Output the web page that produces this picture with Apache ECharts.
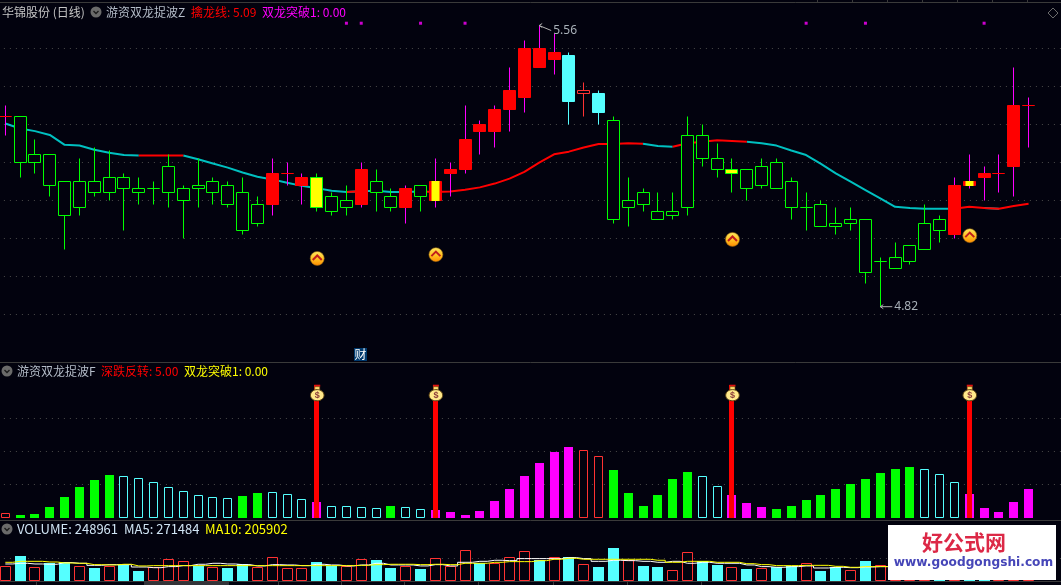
<!DOCTYPE html>
<html>
<head>
<meta charset="utf-8">
<title>华锦股份 日线</title>
<style>
  html, body { margin: 0; padding: 0; background: #02020e; }
  #chart { width: 1061px; height: 585px; }
</style>
<script src="https://cdn.jsdelivr.net/npm/echarts@6/dist/echarts.min.js"></script>
</head>
<body>
<div id="chart"></div>
<script>
// K线：实体上沿、实体下沿、最高、最低
var bodyHigh = [
  5.32,5.32,5.22,5.22,5.15,5.15,5.15,5.16,5.16,5.13,
  5.13,5.19,5.13,5.14,5.15,5.14,5.12,5.09,5.17,5.17,
  5.16,5.16,5.11,5.10,5.18,5.15,5.11,5.13,5.14,5.15,
  5.18,5.26,5.30,5.34,5.39,5.50,5.50,5.49,5.48,5.39,
  5.38,5.31,5.10,5.12,5.07,5.07,5.27,5.27,5.21,5.18,
  5.18,5.19,5.20,5.15,5.08,5.09,5.04,5.05,5.05,4.94,
  4.95,4.98,5.04,5.05,5.14,5.15,5.17,5.17,5.35,5.35
];
var bodyLow = [
  5.32,5.20,5.20,5.14,5.06,5.08,5.12,5.12,5.13,5.12,
  5.13,5.12,5.10,5.13,5.12,5.09,5.02,5.04,5.09,5.17,
  5.14,5.08,5.07,5.08,5.09,5.12,5.08,5.08,5.11,5.10,
  5.17,5.18,5.28,5.28,5.34,5.37,5.45,5.47,5.36,5.38,
  5.33,5.05,5.08,5.09,5.05,5.06,5.08,5.21,5.18,5.17,
  5.13,5.14,5.13,5.08,5.08,5.03,5.03,5.04,4.91,4.94,
  4.92,4.94,4.97,5.02,5.01,5.14,5.16,5.17,5.19,5.35
];
var highs = [
  5.35,5.32,5.26,5.22,5.15,5.21,5.24,5.23,5.17,5.16,
  5.15,5.22,5.14,5.21,5.16,5.15,5.16,5.11,5.21,5.20,
  5.17,5.17,5.12,5.14,5.20,5.18,5.13,5.14,5.14,5.21,
  5.20,5.35,5.31,5.35,5.45,5.52,5.56,5.54,5.49,5.41,
  5.39,5.32,5.16,5.13,5.12,5.12,5.32,5.30,5.25,5.21,
  5.18,5.21,5.21,5.16,5.12,5.10,5.08,5.08,5.05,4.95,
  4.99,4.98,5.09,5.06,5.16,5.22,5.19,5.22,5.45,5.37
];
var lows = [
  5.27,5.16,5.17,5.11,4.97,5.06,5.11,5.10,5.02,5.09,
  5.09,5.08,5.00,5.08,5.09,5.08,5.01,5.03,5.06,5.14,
  5.09,5.07,5.06,5.06,5.08,5.07,5.07,5.04,5.07,5.08,
  5.11,5.17,5.22,5.24,5.28,5.33,5.45,5.43,5.30,5.32,
  5.30,5.04,5.03,5.07,5.05,5.05,5.06,5.19,5.16,5.12,
  5.10,5.13,5.13,5.05,5.02,5.03,5.01,5.02,4.88,4.82,
  4.92,4.93,4.97,4.99,5.00,5.13,5.10,5.12,5.11,5.24
];
// g空心绿 r实心红 c实心青 h空心红 y黄芯绿框 z黄芯红边
var candleKinds = 'rggggggggggggggggg' + 'rrrygg' + 'rggrgz' + 'rrrrrrrr' + 'chc' + 'gggggggg' + 'y' + 'gggggggggggggg' + 'rz' + 'rrrr';

// 擒龙线及其红青分段（1 表示本日到次日这一段为红）
var dragonLine = [
  5.302,5.289,5.282,5.272,5.246,5.244,5.233,5.225,5.219,5.218,
  5.218,5.218,5.218,5.208,5.197,5.186,5.173,5.162,5.155,5.146,
  5.138,5.132,5.125,5.122,5.124,5.125,5.122,5.122,5.123,5.122,
  5.123,5.128,5.134,5.144,5.157,5.175,5.199,5.221,5.228,5.239,
  5.248,5.248,5.250,5.249,5.243,5.241,5.250,5.254,5.258,5.256,
  5.254,5.250,5.244,5.231,5.219,5.196,5.171,5.149,5.127,5.105,
  5.083,5.080,5.078,5.078,5.078,5.083,5.080,5.078,5.085,5.091
];
var dragonRed = [
  0,0,0,0,0,0,0,0,0,1,1,1,0,0,0,0,0,0,0,0,
  0,0,0,1,0,0,0,0,1,1,1,1,1,1,1,1,1,1,1,1,
  1,1,1,0,0,1,1,1,1,1,0,0,0,0,0,0,0,0,0,0,
  0,0,0,0,1,1,0,1,1,0
];

// 顶部信号小点、箭头标记、最高最低标注
var dotDays = [23,24,28,31,54,58,66];
var dotLevel = 5.566;
var signalDays = [21,29,49,65];
var signalArrowGap = 0.123;
var extremeDays = [36,59];
var extremeValues = [5.56,4.82];

// 副图柱子：c空心青 g实心绿 m实心紫 h空心红
var oscValues = [
  4,2,2.75,8,15.5,23,28.25,32,31.75,30.25,
  27.25,23.5,20.5,17.5,16,15.25,16.25,18.5,19.75,18.25,
  14.5,11.75,9.25,9.25,8.5,7.75,8.75,8.5,7,5.75,
  4.25,2,5,12.5,21.5,31.25,41,49.25,53,51.25,
  46.75,35.75,18.5,8.75,17,29,34.25,31.75,24.25,17,
  11,8,6.5,8.75,13.25,17,21.5,25.25,29,33.5,
  36.5,38,37,33.25,27.25,17.75,7.25,4.25,11.75,21.5
];
var oscKinds = 'h' + 'ggggggg' + 'cccccccc' + 'gg' + 'ccc' + 'm' + 'cccc' + 'g' + 'cc' + 'mmmmmmmmmm' + 'hh' + 'gggggg' + 'cc' + 'mmm' + 'gggggggggg' + 'ccc' + 'mmmmm';
var spikeValue = 100;

// 成交量与均量：c实心青 h空心红
var volumeValues = [
  194000,331000,181000,238000,251000,194000,172000,203000,207000,132000,
  181000,287000,260000,199000,181000,172000,225000,181000,313000,168000,
  168000,251000,199000,194000,287000,278000,172000,194000,159000,300000,
  194000,406000,234000,234000,313000,393000,274000,313000,313000,221000,
  185000,432000,278000,199000,185000,141000,379000,260000,212000,181000,
  159000,168000,181000,199000,234000,132000,185000,141000,265000,212000,
  190000,180000,200000,170000,230000,260000,300000,280000,268000,248961
];
var volumeKinds = 'hchcchchcchhhchcchhhhcchh' + 'cchchhhchhhchchcchcchhc' + 'chchcchcchch' + 'hhhchcchhh';
var ma5Values = [
  225000,234000,225000,221000,243000,234000,207000,216000,216000,185000,
  176000,190000,203000,221000,234000,225000,216000,199000,216000,212000,
  203000,221000,212000,199000,212000,234000,212000,212000,199000,216000,
  199000,247000,260000,274000,269000,296000,296000,296000,309000,296000,
  260000,274000,269000,260000,247000,260000,234000,247000,234000,234000,
  212000,190000,181000,190000,199000,172000,181000,176000,185000,190000,
  190000,199000,199000,207000,216000,225000,243000,256000,265000,271484
];
var ma10Values = [
  247000,260000,260000,251000,238000,234000,216000,212000,221000,199000,
  203000,203000,203000,203000,203000,203000,203000,203000,203000,203000,
  203000,203000,203000,203000,207000,216000,221000,221000,216000,221000,
  216000,234000,234000,247000,256000,256000,269000,287000,300000,287000,
  287000,287000,287000,287000,274000,247000,260000,260000,247000,247000,
  229000,216000,203000,203000,207000,207000,194000,181000,190000,190000,
  185000,185000,190000,190000,194000,194000,199000,203000,205000,205902
];

// 日期轴多留两格，让网格线铺到窗口最右边
var dayCount = 72;
var days = [];
for (var d = 0; d < dayCount; d++) {
  days.push(String(d));
}

var bgColor = '#02020e';
var textGrey = '#b4bcc8';
var candleData = [];
var dragonRedData = [];
var dragonCyanData = [];
for (var i = 0; i < bodyHigh.length; i++) {
  candleData.push([i, bodyHigh[i], bodyLow[i], lows[i], highs[i]]);
  var isRed = dragonRed[i] || (i > 0 && dragonRed[i - 1]);
  var isCyan = !dragonRed[i] || (i > 0 && !dragonRed[i - 1]);
  dragonRedData.push(isRed ? dragonLine[i] : null);
  dragonCyanData.push(isCyan ? dragonLine[i] : null);
}

function snap(v) {
  return Math.floor(v) + 0.5;
}

// K线自己画：影线和实体颜色不一样
function renderCandle(params, api) {
  var kind = candleKinds.charAt(params.dataIndex);
  var i = api.value(0);
  var top = api.coord([i, api.value(1)]);
  var bot = api.coord([i, api.value(2)]);
  var low = api.coord([i, api.value(3)]);
  var high = api.coord([i, api.value(4)]);
  var x = snap(top[0]);
  var wick = { g: '#00ff00', y: '#00ff00', r: '#ff00ff', z: '#ff00ff', c: '#55ffff', h: '#ff3232' }[kind];
  var stroke = { g: '#00ff00', y: '#00ff00', r: '#ff0000', z: '#ff0000', c: '#55ffff', h: '#ff3232' }[kind];
  var fill = { g: bgColor, y: '#ffff00', r: '#ff0000', z: '#ff0000', c: '#55ffff', h: bgColor }[kind];
  var yTop = snap(top[1]);
  var yBot = snap(bot[1]);
  var children = [{
    type: 'line',
    shape: { x1: x, y1: snap(high[1]), x2: x, y2: snap(low[1]) },
    style: { stroke: wick, lineWidth: 1 }
  }, {
    type: 'rect',
    shape: { x: x - 6, y: yTop, width: 12, height: yBot - yTop },
    style: { fill: fill, stroke: stroke, lineWidth: 1 }
  }];
  if (kind === 'z') {
    children.push({
      type: 'rect',
      shape: { x: x - 4, y: yTop - 0.5, width: 8, height: yBot - yTop + 1 },
      style: { fill: '#ffff00' }
    });
  }
  return { type: 'group', children: children };
}

// 柱子：空心的要压到整像素，不然边框发虚
var columnColors = { c: '#55ffff', g: '#00ff00', m: '#ff00ff', h: '#ff3232', s: '#ff0000' };
function columnRenderer(kinds, halfWidth) {
  return function (params, api) {
    var kind = kinds.charAt(params.dataIndex);
    var i = api.value(0);
    var top = api.coord([i, api.value(1)]);
    var base = api.coord([i, 0]);
    var x = Math.floor(top[0]);
    var yTop = Math.round(top[1]);
    var yBase = Math.round(base[1]);
    if (kind === 'c' && kinds === volumeKinds || kind === 'g' || kind === 'm' || kind === 's') {
      return {
        type: 'rect',
        shape: { x: x - halfWidth, y: yTop, width: halfWidth * 2 + 1, height: yBase - yTop },
        style: { fill: columnColors[kind] }
      };
    }
    return {
      type: 'rect',
      shape: { x: x - halfWidth + 0.5, y: yTop + 0.5, width: halfWidth * 2, height: yBase - yTop - 1 },
      style: { fill: bgColor, stroke: columnColors[kind], lineWidth: 1 }
    };
  };
}

// 金色圆底红色上箭头
function renderArrow(params, api) {
  var p = api.coord([api.value(0), api.value(1)]);
  var x = p[0] + 0.5;
  var y = p[1];
  return {
    type: 'group',
    children: [{
      type: 'circle',
      shape: { cx: x, cy: y, r: 7 },
      style: {
        stroke: '#8a5a10',
        lineWidth: 0.6,
        fill: new echarts.graphic.LinearGradient(0, 0, 0, 1, [
          { offset: 0, color: '#ffe860' },
          { offset: 0.55, color: '#ffc020' },
          { offset: 1, color: '#ff8a00' }
        ])
      }
    }, {
      type: 'polyline',
      shape: { points: [[x - 4.5, y + 1.5], [x, y - 3], [x + 4.5, y + 1.5]] },
      style: { stroke: '#c01c1c', lineWidth: 2, fill: null }
    }]
  };
}

// 钱袋子放在红柱顶上
function renderBag(params, api) {
  var p = api.coord([api.value(0), api.value(1)]);
  var x = p[0] + 0.5;
  var y = p[1];
  return {
    type: 'group',
    children: [{
      type: 'rect',
      shape: { x: x - 3, y: y, width: 6, height: 2 },
      style: { fill: '#e01010' }
    }, {
      type: 'rect',
      shape: { x: x - 2.5, y: y + 2, width: 5, height: 4 },
      style: { fill: '#ffe070', stroke: '#6a4a10', lineWidth: 0.6 }
    }, {
      type: 'ellipse',
      shape: { cx: x, cy: y + 10.5, rx: 6.8, ry: 5.6 },
      style: { fill: '#ffe88a', stroke: '#5a4010', lineWidth: 1 }
    }, {
      type: 'text',
      style: {
        x: x, y: y + 10.5, text: '$', fill: '#8a3a3a',
        font: 'bold 9px "Liberation Sans"',
        align: 'center', verticalAlign: 'middle'
      }
    }]
  };
}

// 最高最低价的小箭头标注
function renderExtreme(params, api) {
  var p = api.coord([api.value(0), api.value(1)]);
  var x = p[0];
  var y = p[1];
  var isHigh = params.dataIndex === 0;
  var tailX = x + 12;
  var tailY = isHigh ? y + 5 : y;
  return {
    type: 'group',
    children: [{
      type: 'polyline',
      shape: { points: [[x + 3, y - 2], [x, y], [x + 3, y + 2]] },
      style: { stroke: '#b0b0b0', lineWidth: 1, fill: null }
    }, {
      type: 'line',
      shape: { x1: x, y1: y, x2: tailX, y2: tailY },
      style: { stroke: '#b0b0b0', lineWidth: 1 }
    }, {
      type: 'text',
      style: {
        x: tailX + 2, y: tailY, text: api.value(1).toFixed(2), fill: '#a8b0b8',
        font: '12px "Noto Sans"', align: 'left', verticalAlign: 'middle'
      }
    }]
  };
}

function withDay(values) {
  return values.map(function (v, i) { return [i, v]; });
}

function hiddenX(gridIndex) {
  return {
    type: 'category', gridIndex: gridIndex, data: days, boundaryGap: true,
    axisLine: { show: false }, axisTick: { show: false }, axisLabel: { show: false },
    splitLine: { show: false }
  };
}
function hiddenY(gridIndex, min, max, interval) {
  return {
    type: 'value', gridIndex: gridIndex, min: min, max: max, interval: interval,
    axisLine: { show: false }, axisTick: { show: false }, axisLabel: { show: false },
    splitLine: {
      show: true, showMaxLine: false, showMinLine: gridIndex === 0,
      lineStyle: { color: '#4a4a4a', type: [1, 5], width: 1 }
    }
  };
}

// 面板文字
function label(x, y, text, color, size) {
  return {
    type: 'text', z: 60, x: x, y: y,
    style: { text: text, fill: color, font: (size || 12) + 'px "Noto Sans CJK SC"', verticalAlign: 'middle' }
  };
}
function collapseIcon(x, y) {
  return {
    type: 'group', z: 60, x: x, y: y,
    children: [{
      type: 'circle', shape: { cx: 0, cy: 0, r: 5.5 }, style: { fill: '#6a6a6a' }
    }, {
      type: 'polyline', shape: { points: [[-2.5, -1], [0, 1.5], [2.5, -1]] },
      style: { stroke: '#1c1c1c', lineWidth: 1.4, fill: null }
    }]
  };
}
function hLine(y) {
  return {
    type: 'line', z: 40,
    shape: { x1: 0, y1: y + 0.5, x2: 1061, y2: y + 0.5 },
    style: { stroke: '#3a3a3a', lineWidth: 1 }
  };
}
function tick(x, y1, y2) {
  return {
    type: 'line', z: 40,
    shape: { x1: x + 0.5, y1: y1, x2: x + 0.5, y2: y2 },
    style: { stroke: '#3a3a3a', lineWidth: 1 }
  };
}

var graphics = [
  hLine(2), hLine(362), hLine(520), hLine(581),
  label(2, 12, '华锦股份 (日线)', '#c4c4c4'),
  collapseIcon(96, 12),
  label(106, 12, '游资双龙捉波Z', textGrey),
  label(191, 12, '擒龙线: 5.09', '#ff0000'),
  label(262, 12, '双龙突破1: 0.00', '#ff00ff'),
  collapseIcon(7, 371),
  label(17, 371, '游资双龙捉波F', textGrey),
  label(101, 371, '深跌反转: 5.00', '#ff0000'),
  label(184, 371, '双龙突破1: 0.00', '#ffff00'),
  collapseIcon(7, 529),
  label(17, 529, 'VOLUME: 248961', '#d0e4f4', 13),
  label(124, 529, 'MA5: 271484', '#d0e4f4', 13),
  label(205, 529, 'MA10: 205902', '#ffff00', 13),
  // 财字小标
  {
    type: 'rect', z: 60, shape: { x: 354, y: 348, width: 13, height: 13 },
    style: { fill: '#003a6e' }
  },
  {
    type: 'text', z: 61, x: 360.5, y: 354.5,
    style: {
      text: '财', fill: '#ffffff', font: '12px "Noto Sans CJK SC"',
      align: 'center', verticalAlign: 'middle'
    }
  },
  // 右上角菱形
  {
    type: 'polygon', z: 60,
    shape: { points: [[1053, 8], [1058, 13], [1053, 18], [1048, 13]] },
    style: { fill: null, stroke: '#6a6a6a', lineWidth: 1 }
  },
  // 底部日期框
  {
    type: 'rect', z: 60, shape: { x: 144, y: 582, width: 85, height: 3 },
    style: { fill: '#333338' }
  },
  // 水印
  {
    type: 'rect', z: 80, shape: { x: 888, y: 525, width: 168, height: 55 },
    style: { fill: '#ffffff' }
  },
  {
    type: 'text', z: 81, x: 964, y: 542,
    style: {
      text: '好公式网', fill: '#dc2846',
      font: 'bold 21px "Noto Sans CJK SC"', align: 'center', verticalAlign: 'middle'
    }
  },
  {
    type: 'text', z: 81, x: 973.5, y: 563,
    style: {
      text: 'www.goodgongshi.com', fill: '#4646b8',
      font: 'bold 12.2px "DejaVu Sans"', align: 'center', verticalAlign: 'middle'
    }
  }
];
[817, 852, 887, 922, 957, 992, 1027].forEach(function (x) {
  graphics.push(tick(x, 0, 2));
});
[36, 278, 341, 404, 478, 553, 627, 701].forEach(function (x) {
  graphics.push(tick(x, 582, 585));
});

var gridBase = { left: -2.1, width: 1067.76, outerBoundsMode: 'none' };
var chart = echarts.init(document.getElementById('chart'), null, { renderer: 'canvas' });
chart.setOption({
  animation: false,
  backgroundColor: bgColor,
  grid: [
    Object.assign({ top: 10.3, height: 304 }, gridBase),
    Object.assign({ top: 384.7, height: 133.3 }, gridBase),
    Object.assign({ top: 535.6, height: 45.4 }, gridBase)
  ],
  xAxis: [hiddenX(0), hiddenX(1), hiddenX(2)],
  yAxis: [
    hiddenY(0, 4.8, 5.6, 0.1),
    hiddenY(1, 0, 100, 25),
    hiddenY(2, 0, 600000, 300000)
  ],
  graphic: graphics,
  series: [
    { type: 'line', name: '擒龙线青', data: dragonCyanData, xAxisIndex: 0, yAxisIndex: 0, z: 2,
      showSymbol: false, connectNulls: false, lineStyle: { color: '#00c0c0', width: 2 } },
    { type: 'line', name: '擒龙线红', data: dragonRedData, xAxisIndex: 0, yAxisIndex: 0, z: 2,
      showSymbol: false, connectNulls: false, lineStyle: { color: '#ff0000', width: 2 } },
    { type: 'custom', name: 'K线', data: candleData, xAxisIndex: 0, yAxisIndex: 0, z: 3,
      renderItem: renderCandle, encode: { x: 0, y: [1, 2, 3, 4] }, clip: false },
    { type: 'scatter', name: '信号点', xAxisIndex: 0, yAxisIndex: 0, z: 4,
      data: dotDays.map(function (d) { return [d, dotLevel]; }),
      symbol: 'rect', symbolSize: 3, itemStyle: { color: '#ff00ff' } },
    { type: 'custom', name: '箭头', xAxisIndex: 0, yAxisIndex: 0, z: 5,
      data: signalDays.map(function (d) { return [d, lows[d] - signalArrowGap]; }),
      renderItem: renderArrow, clip: false },
    { type: 'custom', name: '极值', xAxisIndex: 0, yAxisIndex: 0, z: 5,
      data: extremeDays.map(function (d, k) { return [d, extremeValues[k]]; }),
      renderItem: renderExtreme, clip: false },

    { type: 'custom', name: '深跌反转', data: withDay(oscValues), xAxisIndex: 1, yAxisIndex: 1, z: 2,
      renderItem: columnRenderer(oscKinds, 4), clip: false },
    { type: 'custom', name: '红柱', xAxisIndex: 1, yAxisIndex: 1, z: 3,
      data: signalDays.map(function (d) { return [d, spikeValue]; }),
      renderItem: columnRenderer('ssss', 2), clip: false },
    { type: 'custom', name: '钱袋', xAxisIndex: 1, yAxisIndex: 1, z: 4,
      data: signalDays.map(function (d) { return [d, spikeValue]; }),
      renderItem: renderBag, clip: false },

    { type: 'custom', name: 'VOLUME', data: withDay(volumeValues), xAxisIndex: 2, yAxisIndex: 2, z: 2,
      renderItem: columnRenderer(volumeKinds, 5), clip: false },
    { type: 'line', name: 'MA5', data: ma5Values, xAxisIndex: 2, yAxisIndex: 2, z: 3, step: 'middle',
      showSymbol: false, lineStyle: { color: '#ffffff', width: 1 } },
    { type: 'line', name: 'MA10', data: ma10Values, xAxisIndex: 2, yAxisIndex: 2, z: 4, step: 'middle',
      showSymbol: false, lineStyle: { color: '#ffff00', width: 1 } }
  ]
});
</script>
</body>
</html>
